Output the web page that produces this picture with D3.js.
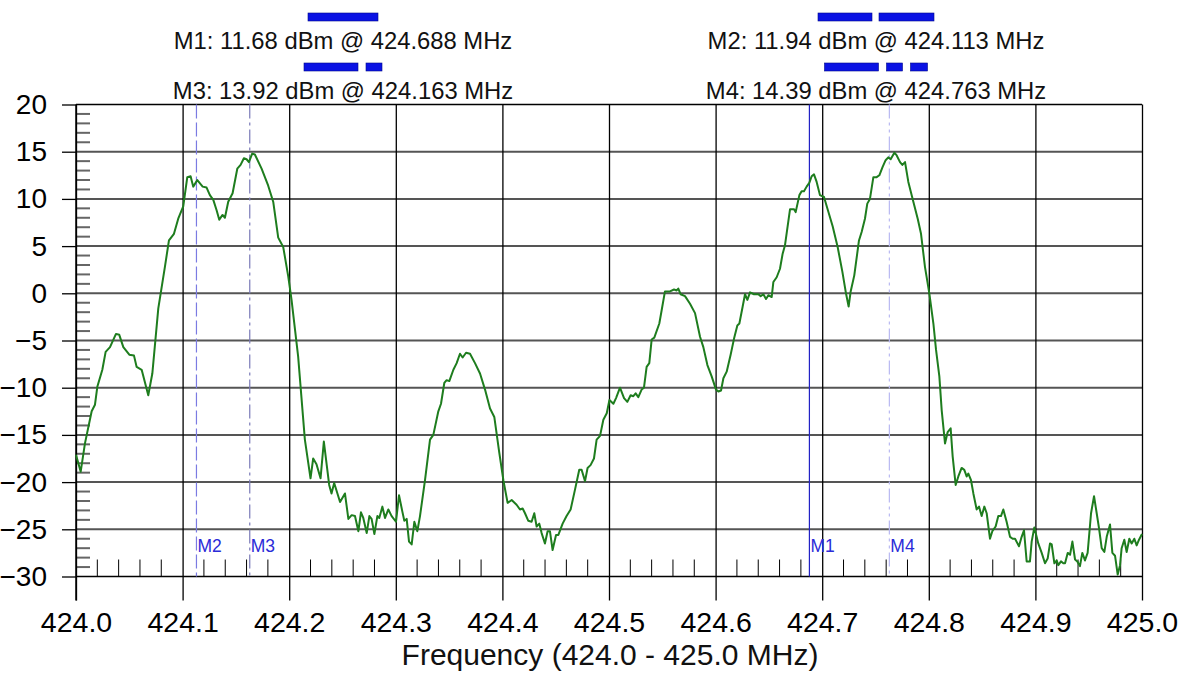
<!DOCTYPE html>
<html>
<head>
<meta charset="utf-8">
<script src="https://cdn.jsdelivr.net/npm/d3@7"></script>
<style>
  html, body { margin: 0; padding: 0; background: #fff; }
  svg { display: block; font-family: "Liberation Sans", Arial, sans-serif; }
</style>
</head>
<body>
<svg id="chart" width="1193" height="678"></svg>
<script>
// spectrum trace
const freqMHz = [
  424.0000, 424.0044, 424.0084, 424.0147, 424.0178, 424.0200, 424.0247, 424.0278, 424.0319, 424.0375,
  424.0406, 424.0444, 424.0500, 424.0544, 424.0569, 424.0616, 424.0678, 424.0716, 424.0772, 424.0834,
  424.0872, 424.0919, 424.0959, 424.1006, 424.1044, 424.1075, 424.1100, 424.1138, 424.1188, 424.1225,
  424.1256, 424.1288, 424.1319, 424.1344, 424.1375, 424.1397, 424.1428, 424.1469, 424.1513, 424.1544,
  424.1575, 424.1600, 424.1622, 424.1653, 424.1678, 424.1741, 424.1803, 424.1850, 424.1897, 424.1944,
  424.1991, 424.2022, 424.2084, 424.2147, 424.2200, 424.2225, 424.2256, 424.2294, 424.2325, 424.2375,
  424.2397, 424.2422, 424.2477, 424.2523, 424.2555, 424.2586, 424.2617, 424.2649, 424.2673, 424.2695,
  424.2727, 424.2752, 424.2773, 424.2799, 424.2827, 424.2845, 424.2874, 424.2899, 424.2930, 424.2961,
  424.3002, 424.3030, 424.3061, 424.3080, 424.3102, 424.3124, 424.3149, 424.3174, 424.3202, 424.3227,
  424.3274, 424.3321, 424.3352, 424.3399, 424.3424, 424.3455, 424.3477, 424.3502, 424.3540, 424.3571,
  424.3602, 424.3627, 424.3659, 424.3696, 424.3743, 424.3790, 424.3837, 424.3884, 424.3924, 424.3971,
  424.4009, 424.4049, 424.4087, 424.4133, 424.4165, 424.4190, 424.4212, 424.4243, 424.4274, 424.4299,
  424.4321, 424.4346, 424.4368, 424.4399, 424.4424, 424.4446, 424.4471, 424.4503, 424.4525, 424.4565,
  424.4602, 424.4640, 424.4681, 424.4721, 424.4743, 424.4775, 424.4799, 424.4827, 424.4859, 424.4884,
  424.4916, 424.4947, 424.4979, 424.5004, 424.5041, 424.5066, 424.5103, 424.5141, 424.5172, 424.5203,
  424.5228, 424.5250, 424.5275, 424.5306, 424.5328, 424.5353, 424.5378, 424.5400, 424.5425, 424.5472,
  424.5494, 424.5525, 424.5572, 424.5610, 424.5635, 424.5650, 424.5672, 424.5713, 424.5760, 424.5807,
  424.5854, 424.5885, 424.5923, 424.5963, 424.6004, 424.6026, 424.6051, 424.6073, 424.6104, 424.6141,
  424.6173, 424.6204, 424.6223, 424.6254, 424.6276, 424.6298, 424.6323, 424.6360, 424.6401, 424.6423,
  424.6448, 424.6473, 424.6495, 424.6526, 424.6542, 424.6573, 424.6604, 424.6629, 424.6651, 424.6698,
  424.6736, 424.6751, 424.6786, 424.6807, 424.6829, 424.6854, 424.6879, 424.6901, 424.6923, 424.6948,
  424.6979, 424.7017, 424.7048, 424.7098, 424.7145, 424.7189, 424.7223, 424.7248, 424.7267, 424.7301,
  424.7345, 424.7370, 424.7401, 424.7423, 424.7448, 424.7480, 424.7511, 424.7536, 424.7567, 424.7595,
  424.7620, 424.7642, 424.7677, 424.7699, 424.7730, 424.7752, 424.7777, 424.7808, 424.7855, 424.7896,
  424.7927, 424.7964, 424.8005, 424.8043, 424.8068, 424.8099, 424.8121, 424.8152, 424.8177, 424.8205,
  424.8224, 424.8252, 424.8277, 424.8308, 424.8333, 424.8355, 424.8371, 424.8396, 424.8418, 424.8449,
  424.8471, 424.8496, 424.8521, 424.8543, 424.8574, 424.8596, 424.8627, 424.8652, 424.8677, 424.8699,
  424.8730, 424.8762, 424.8787, 424.8809, 424.8846, 424.8871, 424.8893, 424.8918, 424.8949, 424.8965,
  424.8990, 424.9027, 424.9059, 424.9090, 424.9115, 424.9137, 424.9153, 424.9178, 424.9200, 424.9215,
  424.9240, 424.9262, 424.9278, 424.9303, 424.9325, 424.9347, 424.9372, 424.9393, 424.9418, 424.9440,
  424.9465, 424.9490, 424.9522, 424.9550, 424.9575, 424.9597, 424.9622, 424.9647, 424.9669, 424.9700,
  424.9722, 424.9747, 424.9772, 424.9794, 424.9809, 424.9834, 424.9856, 424.9881, 424.9903, 424.9928,
  424.9950, 424.9972, 425.0000
]
const levelDbm = [
  -17.1, -18.9, -15.9, -12.5, -11.8, -9.9, -8.1, -6.2, -5.7, -4.3,
  -4.4, -5.7, -6.5, -6.6, -7.8, -8.1, -10.8, -8.5, -1.6, 2.8,
  5.6, 6.3, 7.9, 9.2, 12.3, 12.4, 11.3, 12.0, 11.3, 11.2,
  10.4, 9.9, 8.8, 7.8, 8.3, 8.0, 9.7, 10.6, 13.2, 13.6,
  14.3, 14.2, 13.9, 14.8, 14.7, 13.2, 11.4, 9.7, 5.9, 4.9,
  1.8, -0.7, -6.7, -15.5, -19.6, -17.5, -18.1, -19.6, -15.7, -20.3,
  -21.2, -20.1, -22.1, -21.2, -23.9, -23.5, -23.6, -25.2, -23.2, -23.8,
  -25.4, -23.6, -23.9, -25.5, -23.6, -23.8, -22.6, -23.8, -22.9, -23.6,
  -24.2, -21.4, -23.1, -24.1, -23.9, -26.3, -26.6, -24.2, -25.2, -23.6,
  -19.8, -15.5, -15.0, -12.5, -11.7, -9.5, -9.2, -9.3, -8.1, -7.4,
  -6.4, -6.8, -6.3, -6.4, -7.4, -8.5, -10.2, -12.2, -13.1, -16.9,
  -19.8, -22.2, -21.9, -22.4, -22.9, -22.8, -23.3, -24.1, -24.2, -23.3,
  -24.7, -24.4, -25.4, -26.5, -25.2, -25.2, -27.2, -25.6, -25.6, -24.4,
  -23.6, -22.9, -20.8, -18.7, -18.7, -19.9, -18.5, -18.2, -17.5, -15.5,
  -15.1, -13.4, -12.7, -11.3, -11.7, -11.1, -10.0, -11.1, -11.5, -10.8,
  -10.9, -10.6, -11.0, -10.2, -10.0, -7.8, -7.4, -4.9, -4.7, -3.2,
  -1.8, 0.2, 0.2, 0.4, 0.3, 0.5, -0.1, -0.3, -1.1, -2.1,
  -4.6, -5.7, -7.6, -8.8, -10.2, -10.4, -10.3, -9.0, -8.3, -6.5,
  -4.8, -3.4, -3.2, -1.4, -0.1, -0.7, 0.1, -0.1, -0.1, -0.3,
  -0.1, -0.6, -0.2, -0.4, 1.2, 1.7, 2.6, 4.2, 5.1, 8.9,
  8.9, 8.6, 10.4, 10.8, 10.8, 11.3, 11.7, 12.4, 12.6, 11.8,
  10.4, 10.2, 9.0, 7.1, 4.9, 2.3, 0.0, -1.4, 0.2, 1.9,
  5.6, 6.5, 7.9, 9.5, 10.0, 12.3, 12.3, 12.5, 13.4, 14.1,
  14.4, 14.2, 14.9, 14.6, 13.9, 13.6, 13.9, 11.8, 9.7, 7.9,
  6.3, 2.8, 0.0, -3.2, -6.0, -8.8, -12.4, -15.9, -14.7, -14.3,
  -17.3, -20.3, -19.4, -18.5, -18.7, -19.4, -19.1, -19.8, -21.2, -22.9,
  -22.6, -23.6, -22.6, -23.3, -26.0, -25.2, -24.7, -23.6, -23.6, -22.9,
  -24.2, -25.8, -26.0, -26.0, -26.8, -25.8, -25.1, -28.4, -28.4, -26.3,
  -24.8, -26.5, -27.5, -28.6, -28.1, -26.5, -26.6, -28.6, -28.3, -28.8,
  -28.4, -28.6, -28.6, -27.5, -27.7, -26.3, -28.2, -28.4, -28.9, -27.5,
  -28.3, -27.5, -23.3, -21.5, -23.3, -24.9, -27.0, -27.4, -25.8, -24.5,
  -27.5, -27.8, -29.8, -28.8, -27.0, -26.1, -27.4, -26.0, -26.5, -26.0,
  -26.7, -26.1, -25.5
]

// markers
const markerNames = ["M1", "M2", "M3", "M4"]
const markerFreqs = [424.688, 424.113, 424.163, 424.763]
const markerLevels = [11.68, 11.94, 13.92, 14.39]

// axis ticks
const xTicks = [424.0, 424.1, 424.2, 424.3, 424.4, 424.5, 424.6, 424.7, 424.8, 424.9, 425.0]
const yTicks = [-30, -25, -20, -15, -10, -5, 0, 5, 10, 15, 20]
const xTitle = "Frequency (424.0 - 425.0 MHz)"

const plotLeft = 76, plotRight = 1142, plotTop = 104.5, plotBottom = 576.5

const svg = d3.select("#chart")

const x = d3.scaleLinear().domain([424, 425]).range([plotLeft, plotRight])
const y = d3.scaleLinear().domain([-30, 20]).range([plotBottom, plotTop])

// line styles for markers (plot dash, legend sample pattern, colour)
const markerStyle = {
  M1: { dash: null, sample: [70], color: "#2222c4" },
  M2: { dash: "14,4", sample: [54, 7, 55], color: "#7b7be2" },
  M3: { dash: "14,4,3,4", sample: [54, 8, 16], color: "#7a7ab8" },
  M4: { dash: "14,4,3,4,3,4", sample: [54, 8, 16, 8, 17], color: "#b9b9f2" }
}

// horizontal grid (every 5 dB)
svg.append("g")
  .selectAll("line")
  .data(yTicks.filter(d => d > -30 && d < 20))
  .join("line")
  .attr("x1", plotLeft).attr("x2", plotRight)
  .attr("y1", d => y(d)).attr("y2", d => y(d))
  .attr("stroke", "#555")
  .attr("stroke-width", 2)

// minor y ticks every 1 dB
const yMinor = d3.range(-29, 20).filter(d => d % 5 !== 0)
svg.append("g")
  .selectAll("line")
  .data(yMinor)
  .join("line")
  .attr("x1", plotLeft).attr("x2", plotLeft + 14)
  .attr("y1", d => y(d)).attr("y2", d => y(d))
  .attr("stroke", "#666")
  .attr("stroke-width", 2)

// minor x ticks every 0.02 MHz
const xMinor = d3.range(0, 50).map(i => 424 + i * 0.02).filter((d, i) => i % 5 !== 0)
svg.append("g")
  .selectAll("line")
  .data(xMinor)
  .join("line")
  .attr("x1", d => x(d)).attr("x2", d => x(d))
  .attr("y1", plotBottom).attr("y2", plotBottom - 17)
  .attr("stroke", "#000")
  .attr("stroke-width", 1)

// x axis: vertical grid lines reaching down as ticks
const xAxis = d3.axisBottom(x)
  .tickValues(xTicks)
  .tickFormat(d3.format(".1f"))
  .tickSize(24)

const gx = svg.append("g")
  .attr("transform", `translate(0,${plotBottom})`)
  .call(xAxis)
gx.select(".domain").remove()
gx.selectAll(".tick line")
  .attr("y1", plotTop - plotBottom)
  .attr("stroke", "#000")
  .attr("stroke-width", 1.3)
gx.selectAll(".tick text")
  .attr("y", 55.5)
  .attr("dy", 0)
  .attr("fill", "#000")
  .attr("font-size", 28.5)
  .attr("font-family", "Liberation Sans, Arial, sans-serif")

// y axis
const yAxis = d3.axisLeft(y)
  .tickValues(yTicks)
  .tickFormat(d3.format("d"))
  .tickSize(14)
  .tickPadding(15)

const gy = svg.append("g")
  .attr("transform", `translate(${plotLeft},0)`)
  .call(yAxis)
gy.select(".domain").remove()
gy.selectAll(".tick line").attr("stroke", "#000").attr("stroke-width", 1.3)
gy.selectAll(".tick text")
  .attr("fill", "#000")
  .attr("font-size", 28)
  .attr("font-family", "Liberation Sans, Arial, sans-serif")

// frame
svg.append("line")
  .attr("x1", plotLeft).attr("x2", plotRight).attr("y1", plotTop).attr("y2", plotTop)
  .attr("stroke", "#000").attr("stroke-width", 1.5)
svg.append("line")
  .attr("x1", plotLeft).attr("x2", plotRight).attr("y1", plotBottom).attr("y2", plotBottom)
  .attr("stroke", "#000").attr("stroke-width", 1.5)
svg.append("line")
  .attr("x1", plotLeft).attr("x2", plotLeft).attr("y1", plotTop).attr("y2", plotBottom + 24)
  .attr("stroke", "#000").attr("stroke-width", 1.5)

// marker lines and labels
const markers = markerNames.map((name, i) => ({
  name, freq: markerFreqs[i], level: markerLevels[i], style: markerStyle[name]
}))

svg.append("g")
  .selectAll("line")
  .data(markers)
  .join("line")
  .attr("x1", d => x(d.freq)).attr("x2", d => x(d.freq))
  .attr("y1", plotTop).attr("y2", plotBottom)
  .attr("stroke", d => d.style.color)
  .attr("stroke-width", 1.2)
  .attr("stroke-dasharray", d => d.style.dash)

svg.append("g")
  .selectAll("text")
  .data(markers)
  .join("text")
  .attr("x", d => x(d.freq) + 1)
  .attr("y", 552)
  .attr("fill", "#2b2bd8")
  .attr("font-size", 17.5)
  .text(d => d.name)

// trace
const trace = freqMHz.map((f, i) => [f, levelDbm[i]])
svg.append("path")
  .datum(trace)
  .attr("fill", "none")
  .attr("stroke", "#1e7d1e")
  .attr("stroke-width", 2)
  .attr("stroke-linejoin", "round")
  .attr("d", d3.line().x(d => x(d[0])).y(d => y(d[1])))

// legend: two columns, two rows
const legendPos = { M1: [343, 0], M2: [876, 0], M3: [343, 1], M4: [876, 1] }
const fmtLevel = d3.format(".2f")
const fmtFreq = d3.format(".3f")

markers.forEach(m => {
  const [cx, row] = legendPos[m.name]
  const baseY = 49 + row * 50
  const sampleTop = 13 + row * 50
  const segs = m.style.sample
  const total = d3.sum(segs)
  let sx = cx - total / 2
  segs.forEach((w, k) => {
    if (k % 2 === 0) {
      svg.append("rect")
        .attr("x", sx).attr("y", sampleTop)
        .attr("width", w).attr("height", 8)
        .attr("fill", "#0a12e4")
        .attr("stroke", "#000a8a")
        .attr("stroke-width", 0.6)
    }
    sx += w
  })
  svg.append("text")
    .attr("x", cx)
    .attr("y", baseY)
    .attr("text-anchor", "middle")
    .attr("font-size", 23.8)
    .attr("fill", "#111")
    .text(`${m.name}: ${fmtLevel(m.level)} dBm @ ${fmtFreq(m.freq)} MHz`)
})

// axis title
svg.append("text")
  .attr("x", 610)
  .attr("y", 665)
  .attr("text-anchor", "middle")
  .attr("font-size", 30)
  .attr("fill", "#111")
  .text(xTitle)
</script>
</body>
</html>
